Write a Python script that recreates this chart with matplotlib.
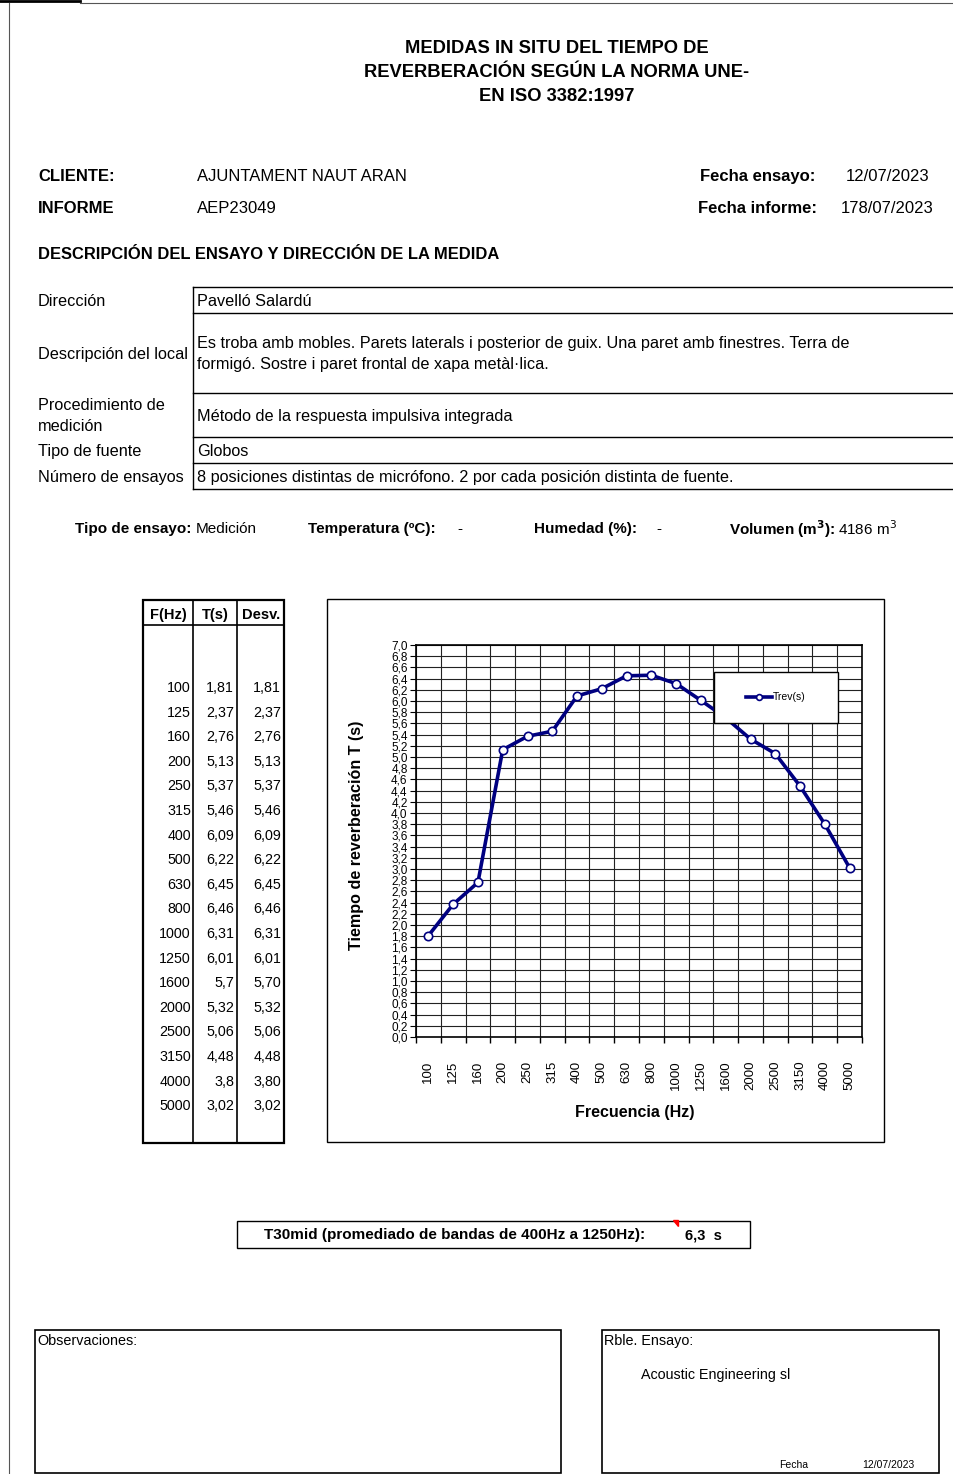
import matplotlib
matplotlib.use("Agg")
import matplotlib.pyplot as plt
from matplotlib.patches import Rectangle, Polygon
from matplotlib.lines import Line2D
import numpy as np

plt.rcParams['font.family'] = ['Liberation Sans', 'DejaVu Sans']

# ---------------- data ----------------
freqs = [100, 125, 160, 200, 250, 315, 400, 500, 630, 800, 1000, 1250,
         1600, 2000, 2500, 3150, 4000, 5000]
trev = [1.81, 2.37, 2.76, 5.13, 5.37, 5.46, 6.09, 6.22, 6.45, 6.46, 6.31,
        6.01, 5.7, 5.32, 5.06, 4.48, 3.8, 3.02]
desv = [1.81, 2.37, 2.76, 5.13, 5.37, 5.46, 6.09, 6.22, 6.45, 6.46, 6.31,
        6.01, 5.70, 5.32, 5.06, 4.48, 3.80, 3.02]
table_headers = ["F(Hz)", "T(s)", "Desv."]
title_lines = ["MEDIDAS IN SITU DEL TIEMPO DE",
               "REVERBERACIÓN SEGÚN LA NORMA UNE-",
               "EN ISO 3382:1997"]
desc_labels = ["Dirección", "Descripción del local", "Procedimiento de\nmedición",
               "Tipo de fuente", "Número de ensayos"]
desc_values = ["Pavelló Salardú",
               "Es troba amb mobles. Parets laterals i posterior de guix. Una paret amb finestres. Terra de\nformigó. Sostre i paret frontal de xapa metàl·lica.",
               "Método de la respuesta impulsiva integrada",
               "Globos",
               "8 posiciones distintas de micrófono. 2 por cada posición distinta de fuente."]
t30mid = 6.3
series_name = "Trev(s)"

W, H = 954, 1474
fig = plt.figure(figsize=(W / 100, H / 100), dpi=100)
page = fig.add_axes([0, 0, 1, 1])
page.set_xlim(0, W)
page.set_ylim(H, 0)
page.axis('off')

def txt(x, y, s, size=10.5, weight='normal', ha='left', va='center', **kw):
    page.text(x, y, s, fontsize=size, fontweight=weight, ha=ha, va=va, color='black', **kw)

def hline(x0, x1, y, lw=1.0, color='black'):
    page.add_line(Line2D([x0, x1], [y, y], lw=lw, color=color))

def vline(x, y0, y1, lw=1.0, color='black'):
    page.add_line(Line2D([x, x], [y0, y1], lw=lw, color=color))

# page borders
hline(0, 80, 1, lw=2.0)
hline(80, W, 3, lw=0.8, color='#555555')
vline(9, 3, H, lw=0.8, color='#555555')

# title
for i, line in enumerate(title_lines):
    txt(557, 48 + 24 * i, line, size=13.2, weight='bold', ha='center')

# header info
txt(38, 176, "CLIENTE:", size=12, weight='bold')
txt(197, 176, "AJUNTAMENT NAUT ARAN", size=12)
txt(38, 208, "INFORME", size=12, weight='bold')
txt(197, 208, "AEP23049", size=12)
txt(700, 176, "Fecha ensayo:", size=12, weight='bold')
txt(846, 176, "12/07/2023", size=12)
txt(698, 208, "Fecha informe:", size=12, weight='bold')
txt(841, 208, "178/07/2023", size=12)
txt(38, 254, "DESCRIPCIÓN DEL ENSAYO Y DIRECCIÓN DE LA MEDIDA", size=11.9, weight='bold')

# description table
row_edges = [287, 313, 393, 437, 463, 489]
for y in row_edges:
    hline(193, W, y, lw=1.0)
vline(193, 287, 489, lw=1.0)
for i, (lab, val) in enumerate(zip(desc_labels, desc_values)):
    yc = (row_edges[i] + row_edges[i + 1]) / 2
    txt(38, yc + (1 if i == 2 else 1), lab, size=11.7, linespacing=1.45)
    txt(197, yc + 1, val, size=11.7, linespacing=1.5)

# test info line
txt(191, 529, "Tipo de ensayo:", size=11, weight='bold', ha='right')
txt(196, 529, "Medición", size=11)
txt(308, 529, "Temperatura (ºC):", size=11, weight='bold')
txt(457, 529, "-", size=11)
txt(534, 529, "Humedad (%):", size=11, weight='bold')
txt(656, 529, "-", size=11)
txt(729, 529, r"Volumen (m$^\mathbf{3}$):", size=11, weight='bold')
txt(838, 529, r"4186 m$^3$", size=11)

# data table
tx0, tx1, ty0, ty1 = 143, 284, 600, 1143
page.add_patch(Rectangle((tx0, ty0), tx1 - tx0, ty1 - ty0, fill=False, lw=1.6, ec='black'))
vline(193, ty0, ty1, lw=1.2)
vline(237, ty0, ty1, lw=1.2)
hline(tx0, tx1, 625, lw=1.2)
for xc, hd in zip([168, 215, 261], table_headers):
    txt(xc, 615, hd, size=10.5, weight='bold', ha='center')
row_y0, row_dy = 688, 24.6
for i, (f, t, d) in enumerate(zip(freqs, trev, desv)):
    y = row_y0 + i * row_dy
    txt(191, y, f"{f}", size=10.3, ha='right')
    txt(234, y, f"{t:g}".replace('.', ','), size=10.3, ha='right')
    txt(281, y, f"{d:.2f}".replace('.', ','), size=10.3, ha='right')

# chart outer box
page.add_patch(Rectangle((327, 599), 884 - 327, 1142 - 599, fill=False, lw=1.0, ec='black'))

# chart axes
L, R, T, B = 416, 862, 645, 1037
ax = fig.add_axes([L / W, 1 - B / H, (R - L) / W, (B - T) / H])
x = np.arange(len(freqs))
ax.plot(x, trev, color='#000080', lw=2.6, marker='o', ms=6, mfc='white',
        mec='#000080', mew=1.2, label=series_name, zorder=5)
ax.set_xlim(-0.5, len(freqs) - 0.5)
ax.set_ylim(0, 7)
yt = np.round(np.arange(0, 7.01, 0.2), 1)
ax.set_yticks(yt)
ax.set_yticklabels([f"{v:.1f}".replace('.', ',') for v in yt], fontsize=8.5)
ax.set_xticks(x)
ax.set_xticklabels([str(f) for f in freqs], rotation=90, fontsize=9.5)
ax.set_xticks(np.arange(-0.5, len(freqs)), minor=True)
ax.tick_params(axis='x', which='major', length=0, pad=17)
ax.tick_params(axis='x', which='minor', length=4, width=1, direction='out')
ax.tick_params(axis='y', which='major', length=4, width=0.8, direction='out', pad=2)
ax.grid(axis='y', which='major', color='#222222', lw=0.8)
ax.grid(axis='x', which='minor', color='#222222', lw=0.8)
ax.set_axisbelow(True)
for s in ax.spines.values():
    s.set_linewidth(1.2)
    s.set_color('black')

# legend box
lx0, lx1, ly0, ly1 = 714, 838, 672, 723
bx0 = (lx0 - L) / (R - L)
bw = (lx1 - lx0) / (R - L)
by0 = 1 - (ly1 - T) / (B - T)
bh = (ly1 - ly0) / (B - T)
ax.add_patch(Rectangle((bx0, by0), bw, bh, transform=ax.transAxes, fc='white',
                       ec='black', lw=1.0, zorder=8, clip_on=False))
leg = ax.legend(loc='center', bbox_to_anchor=(bx0 + bw / 2, by0 + bh / 2),
                fontsize=7.5, frameon=False, handlelength=2.5, handletextpad=0.1,
                markerscale=0.7, borderpad=0)
leg.set_zorder(10)

txt(357, 835, "Tiempo de reverberación T (s)", size=11.6, weight='bold', ha='center', rotation=90)
txt(635, 1113, "Frecuencia (Hz)", size=11.5, weight='bold', ha='center')

# T30mid box
page.add_patch(Rectangle((237, 1221), 750 - 237, 1248 - 1221, fill=False, lw=1.0, ec='black'))
txt(264, 1235, "T30mid (promediado de bandas de 400Hz a 1250Hz):", size=11, weight='bold')
txt(685, 1236, f"{t30mid:.1f}".replace('.', ',') + "  s", size=10.5, weight='bold')
page.add_patch(Polygon([[673, 1220], [678, 1220], [678, 1226]], closed=True, color='red'))

# bottom boxes
page.add_patch(Rectangle((35, 1330), 561 - 35, 1473 - 1330, fill=False, lw=1.2, ec='black'))
txt(37, 1341, "Observaciones:", size=10.4)
page.add_patch(Rectangle((602, 1330), 939 - 602, 1473 - 1330, fill=False, lw=1.2, ec='black'))
txt(604, 1341, "Rble. Ensayo:", size=10.4)
txt(641, 1375, "Acoustic Engineering sl", size=10.3)
txt(779, 1465, "Fecha", size=7.5)
txt(862, 1465, "12/07/2023", size=7.5)

fig.savefig("out.png", dpi=100)
